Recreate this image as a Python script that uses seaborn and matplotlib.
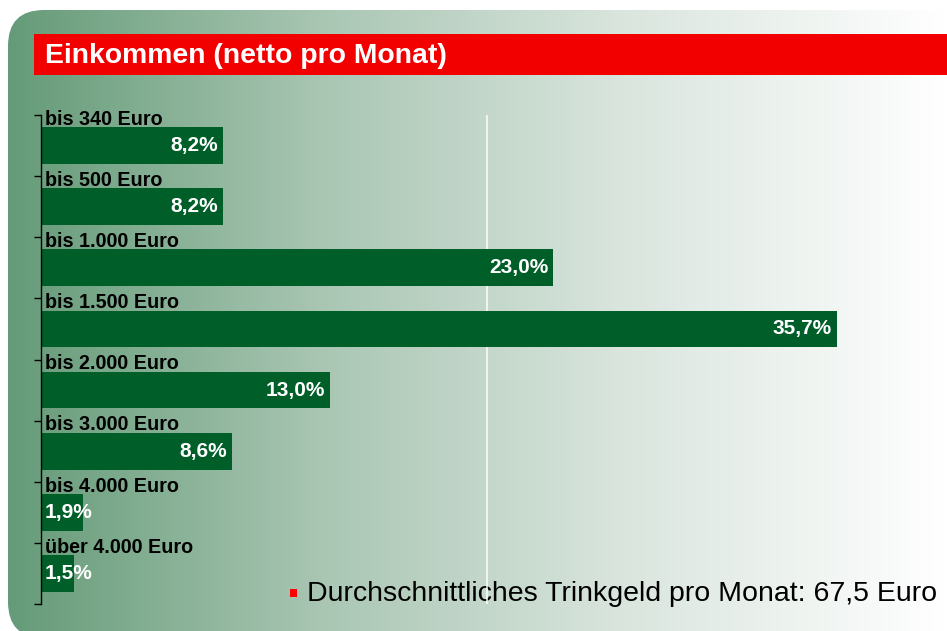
import numpy as np
import pandas as pd
import seaborn as sns
import matplotlib.pyplot as plt
from matplotlib.patches import FancyBboxPatch, Rectangle
from matplotlib.colors import LinearSegmentedColormap

# ---- data ----
categories = ["bis 340 Euro", "bis 500 Euro", "bis 1.000 Euro", "bis 1.500 Euro",
              "bis 2.000 Euro", "bis 3.000 Euro", "bis 4.000 Euro", "über 4.000 Euro"]
values = [8.2, 8.2, 23.0, 35.7, 13.0, 8.6, 1.9, 1.5]
value_labels = ["8,2%", "8,2%", "23,0%", "35,7%", "13,0%", "8,6%", "1,9%", "1,5%"]
title = "Einkommen (netto pro Monat)"
note = "Durchschnittliches Trinkgeld pro Monat: 67,5 Euro"

W, H = 947, 631
BAR = "#005f29"
RED = "#f20000"

sns.set_theme(style="white")
plt.rcParams['font.family'] = ['Liberation Sans', 'DejaVu Sans']

fig = plt.figure(figsize=(W / 100, H / 100), dpi=100)
fig.patch.set_facecolor("white")

# ---- background panel with gradient ----
bg = fig.add_axes([0, 0, 1, 1], zorder=0)
bg.set_xlim(0, W)
bg.set_ylim(H, 0)
bg.axis("off")
cmap = LinearSegmentedColormap.from_list("g", ["#659b78", "#a9c6b3", "#dbe6df", "#ffffff"])
grad = np.linspace(0, 1, 512)[None, :]
im = bg.imshow(grad, extent=(8, W, 640, 10), cmap=cmap, aspect="auto", interpolation="bilinear")
panel = FancyBboxPatch((8, 10), 1100, 628, boxstyle="round,pad=0,rounding_size=36",
                       transform=bg.transData, facecolor="none", edgecolor="none")
bg.add_patch(panel)
im.set_clip_path(panel)

# title bar
bg.add_patch(Rectangle((34, 34), W - 34, 41, facecolor=RED, edgecolor="none"))
bg.text(45, 56, title, color="white", fontsize=20.4, fontweight="bold", va="center", ha="left")

# note
bg.add_patch(Rectangle((290, 589), 7, 8, facecolor="#ff0000", edgecolor="none"))
bg.text(307, 594, note, color="black", fontsize=20.5, va="center", ha="left")

# ---- bar chart ----
ax = fig.add_axes([40.5 / W, (H - 604) / H, 892 / W, 489 / H], zorder=1)
ax.patch.set_alpha(0)
df = pd.DataFrame({"Einkommen": categories, "Anteil": values})
sns.barplot(data=df, x="Anteil", y="Einkommen", orient="h", color=BAR, saturation=1,
            width=0.6, linewidth=0, ax=ax, zorder=2)
ax.set_xlim(0, 40)
ax.set_ylim(len(categories) - 0.5, -0.5)
ax.axvline(20, color="white", lw=1.5, alpha=0.75, zorder=0.5)

for s in ["top", "right", "bottom"]:
    ax.spines[s].set_visible(False)
ax.spines["left"].set_color("black")
ax.spines["left"].set_linewidth(1.0)
ax.set_xlabel("")
ax.set_ylabel("")
ax.set_xticks([])
ax.set_yticks(range(len(categories)))
ax.set_yticklabels([])
ax.tick_params(axis="y", which="major", length=0)
ax.set_yticks(np.arange(-0.5, len(categories), 1.0), minor=True)
ax.tick_params(axis="y", which="minor", length=5, width=1, color="black", direction="out", left=True)

for i, (cat, v, lab) in enumerate(zip(categories, values, value_labels)):
    ax.text(0.18, i - 0.5 + 0.07, cat, fontsize=14.2, fontweight="bold", color="black",
            va="center", ha="left", zorder=3)
    if v > 3:
        ax.text(v - 0.22, i, lab, fontsize=15, fontweight="bold", color="white",
                va="center", ha="right", zorder=3)
    else:
        ax.text(0.2, i, lab, fontsize=15, fontweight="bold", color="white",
                va="center", ha="left", zorder=3)

fig.savefig("out.png", dpi=100)
